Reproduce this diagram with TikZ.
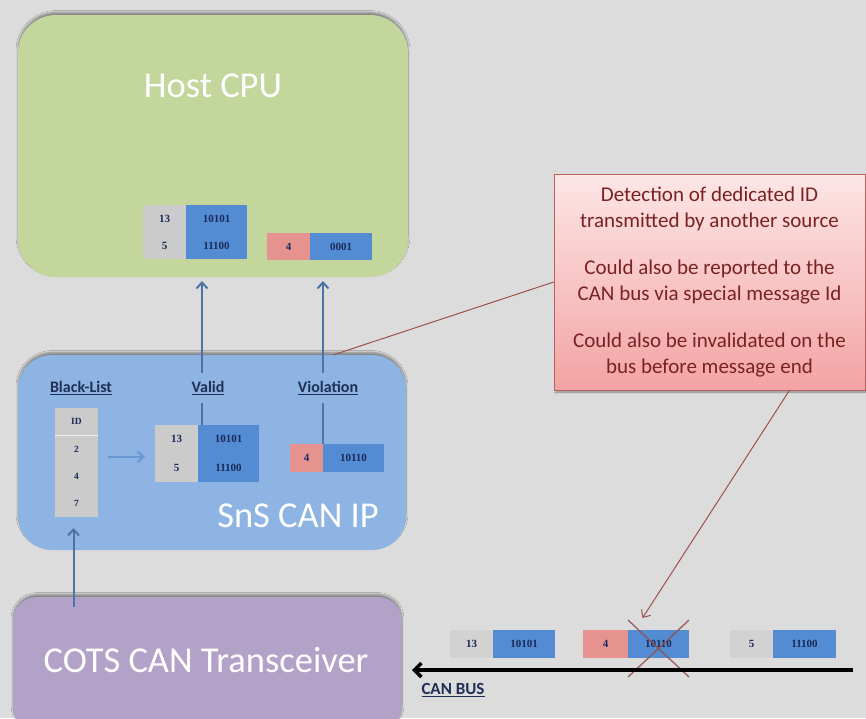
\documentclass[tikz,border=0pt]{standalone}
\usepackage{fontspec}
\setmainfont{Carlito}
\newfontfamily\cellfont{Liberation Serif}
\usetikzlibrary{arrows.meta}
\usetikzlibrary{positioning}
\usetikzlibrary{shadows.blur}

\definecolor{canvas}{HTML}{DCDCDC}
\definecolor{hostgreen}{HTML}{C3D69B}
\definecolor{snsblue}{HTML}{8DB4E2}
\definecolor{cotspurple}{HTML}{B3A2C7}
\definecolor{cellgrey}{HTML}{CBCBCB}
\definecolor{busgrey}{HTML}{D2D2D2}
\definecolor{cellblue}{HTML}{548CD4}
\definecolor{cellred}{HTML}{E6938F}
\definecolor{celltext}{HTML}{1A2A5A}
\definecolor{linkblue}{HTML}{4F73A8}
\definecolor{innerblue}{HTML}{6A96D6}
\definecolor{notetop}{HTML}{FDE6E6}
\definecolor{notebottom}{HTML}{F3A3A3}
\definecolor{noteedge}{HTML}{B8615C}
\definecolor{notetext}{HTML}{7A2222}
\definecolor{labelnavy}{HTML}{1F2F55}

\tikzset{
    >={Straight Barb[length=6pt,width=11pt]},
    block/.style =  {
                        rectangle, inner sep=0pt, outer sep=0pt,
                        blur shadow={shadow xshift=0pt, shadow yshift=2.5pt,
                                     shadow blur steps=6, shadow opacity=40}
                    },
    hostbox/.style = {block, rounded corners=38pt, fill=hostgreen,
                      minimum width=390pt, minimum height=262pt},
    snsbox/.style = {block, rounded corners=34pt, fill=snsblue,
                     minimum width=388pt, minimum height=195pt},
    cotsbox/.style = {block, rounded corners=24pt, fill=cotspurple,
                      minimum width=389pt, minimum height=135pt},
    boxtitle/.style = {text=white, font=\fontsize{36.5}{42}\selectfont},
    tablecell/.style = {
                        rectangle, inner sep=0pt, outer sep=0pt,
                        minimum height=27pt, text=celltext,
                        font=\cellfont\bfseries\fontsize{11}{13}\selectfont
                    },
    idcell/.style = {tablecell, fill=cellgrey, minimum width=43pt},
    datacell/.style = {tablecell, fill=cellblue, minimum width=61pt},
    badcell/.style = {tablecell, fill=cellred, minimum width=43pt},
    buscell/.style = {tablecell, fill=busgrey, minimum width=43pt, minimum height=28pt},
    listcell/.style = {tablecell, fill=cellgrey, minimum width=43pt, minimum height=27.25pt,
                       font=\cellfont\bfseries\fontsize{9.5}{11}\selectfont},
    tallcell/.style = {minimum height=28.5pt},
    colhead/.style = {fill=snsblue, inner xsep=3pt, inner ysep=8pt, text=labelnavy,
                      font=\bfseries\fontsize{16}{18}\selectfont},
    notebox/.style = {
                        rectangle, draw=noteedge, line width=0.6pt,
                        top color=notetop, bottom color=notebottom,
                        minimum width=311pt, minimum height=216pt,
                        align=center, text=notetext,
                        font=\fontsize{21}{26}\selectfont,
                        blur shadow={shadow xshift=2pt, shadow yshift=-2pt,
                                     shadow blur steps=4, shadow opacity=40}
                    },
    hostlink/.style = {draw=linkblue, line width=2pt},
    innerlink/.style = {draw=innerblue, line width=2pt},
    noteline/.style = {draw=noteedge!85!black, line width=1pt},
    crossline/.style = {draw=noteedge!80!black, line width=1.4pt, opacity=0.85},
    busline/.style = {draw=black, line width=3.5pt},
    buslabel/.style = {text=labelnavy, font=\bfseries\fontsize{17}{19}\selectfont}
}

\begin{document}
\begin{tikzpicture}[x=1pt, y=-1pt]
    \fill[canvas] (0,0) rectangle (866,718);
    \useasboundingbox (0,0) rectangle (866,718);

    \node (hostcpu)   [hostbox, anchor=north west] at (18,15) {};
    \node (hosttitle) [boxtitle] at (213,86) {Host CPU};
    \node (sns)       [snsbox, anchor=north west] at (18,355) {};
    \node (snstitle)  [boxtitle] at (298,516) {SnS CAN IP};
    \node (cots)      [cotsbox, anchor=north west] at (13,597) {};
    \node (cotstitle) [boxtitle] at (206,660) {COTS CAN Transceiver};

    \node (h13)      [idcell, anchor=north west] at (143,205) {13};
    \node (h5)       [idcell, below=0pt of h13] {5};
    \node (h10101)   [datacell, right=0pt of h13] {10101};
    \node (h11100)   [datacell, below=0pt of h10101] {11100};
    \node (hvio4)    [badcell, anchor=north west] at (267,233) {4};
    \node (hvio0001) [datacell, minimum width=62pt, right=0pt of hvio4] {0001};

    \node (blid) [listcell, anchor=north west] at (55,408) {ID};
    \node (bl2)  [listcell, below=0pt of blid] {2};
    \node (bl4)  [listcell, below=0pt of bl2] {4};
    \node (bl7)  [listcell, below=0pt of bl4] {7};
    \draw[white!70!cellgrey, line width=0.5pt] (blid.south west) -- (blid.south east);

    \node (sv13)    [idcell, tallcell, anchor=north west] at (155,425) {13};
    \node (sv5)     [idcell, tallcell, below=0pt of sv13] {5};
    \node (sv10101) [datacell, tallcell, right=0pt of sv13] {10101};
    \node (sv11100) [datacell, tallcell, below=0pt of sv10101] {11100};

    \node (svio4)     [badcell, minimum width=33pt, minimum height=28pt, anchor=north west] at (290,444) {4};
    \node (svio10110) [datacell, minimum height=28pt, right=0pt of svio4] {10110};

    \node (m1id)   [buscell, anchor=north west] at (450,630) {13};
    \node (m1data) [datacell, minimum width=62pt, minimum height=28pt, right=0pt of m1id] {10101};
    \node (m2id)   [badcell, minimum width=45pt, minimum height=28pt, anchor=north west] at (583,630) {4};
    \node (m2data) [datacell, minimum width=61pt, minimum height=28pt, right=0pt of m2id] {10110};
    \node (m3id)   [buscell, anchor=north west] at (730,630) {5};
    \node (m3data) [datacell, minimum width=63pt, minimum height=28pt, right=0pt of m3id] {11100};

    \draw[hostlink, ->, shorten >=4pt] ([xshift=4pt]sv10101.north west) -- ([xshift=4pt]sv10101.north west |- hostcpu.south);
    \draw[hostlink, ->, shorten >=4pt] (svio4.north east) -- (svio4.north east |- hostcpu.south);
    \draw[innerlink, ->, shorten <=10pt, shorten >=10pt] ([yshift=-8pt]bl2.east) -- ([yshift=-8pt]bl2.east -| sv13.west);
    \draw[hostlink, ->, shorten >=11pt] ([xshift=-3pt,yshift=-10pt]cots.north -| bl7.south) -- ([xshift=-3pt]bl7.south);

    \node (bllabel)    [colhead] at (81,388) {\underline{Black-List}};
    \node (validlabel) [colhead] at (208,388) {\underline{Valid}};
    \node (violabel)   [colhead] at (328,388) {\underline{Violation}};

    \node (note) [notebox] at (709.5,282) {Detection of dedicated ID\\transmitted by another source\\[21pt]Could also be reported to the\\CAN bus via special message Id\\[21pt]Could also be invalidated on the\\bus before message end};

    \draw[noteline] (note.west) -- ([xshift=10pt]svio4.north east |- sns.north);
    \draw[noteline, ->] ([xshift=80pt]note.south) -- ([xshift=-16pt,yshift=12pt]m2data.north);

    \draw[crossline] ([yshift=10pt]m2data.north west) -- ([yshift=-19pt]m2data.south east);
    \draw[crossline] ([yshift=10pt]m2data.north east) -- ([yshift=-19pt]m2data.south west);

    \coordinate (busstart) at (853,670);
    \draw[busline, -{Straight Barb[length=7pt,width=14pt]}, shorten >=10pt] (busstart) -- (busstart -| cots.east);
    \node (canbus) [buslabel] at (453,690) {\underline{CAN BUS}};
\end{tikzpicture}
\end{document}
